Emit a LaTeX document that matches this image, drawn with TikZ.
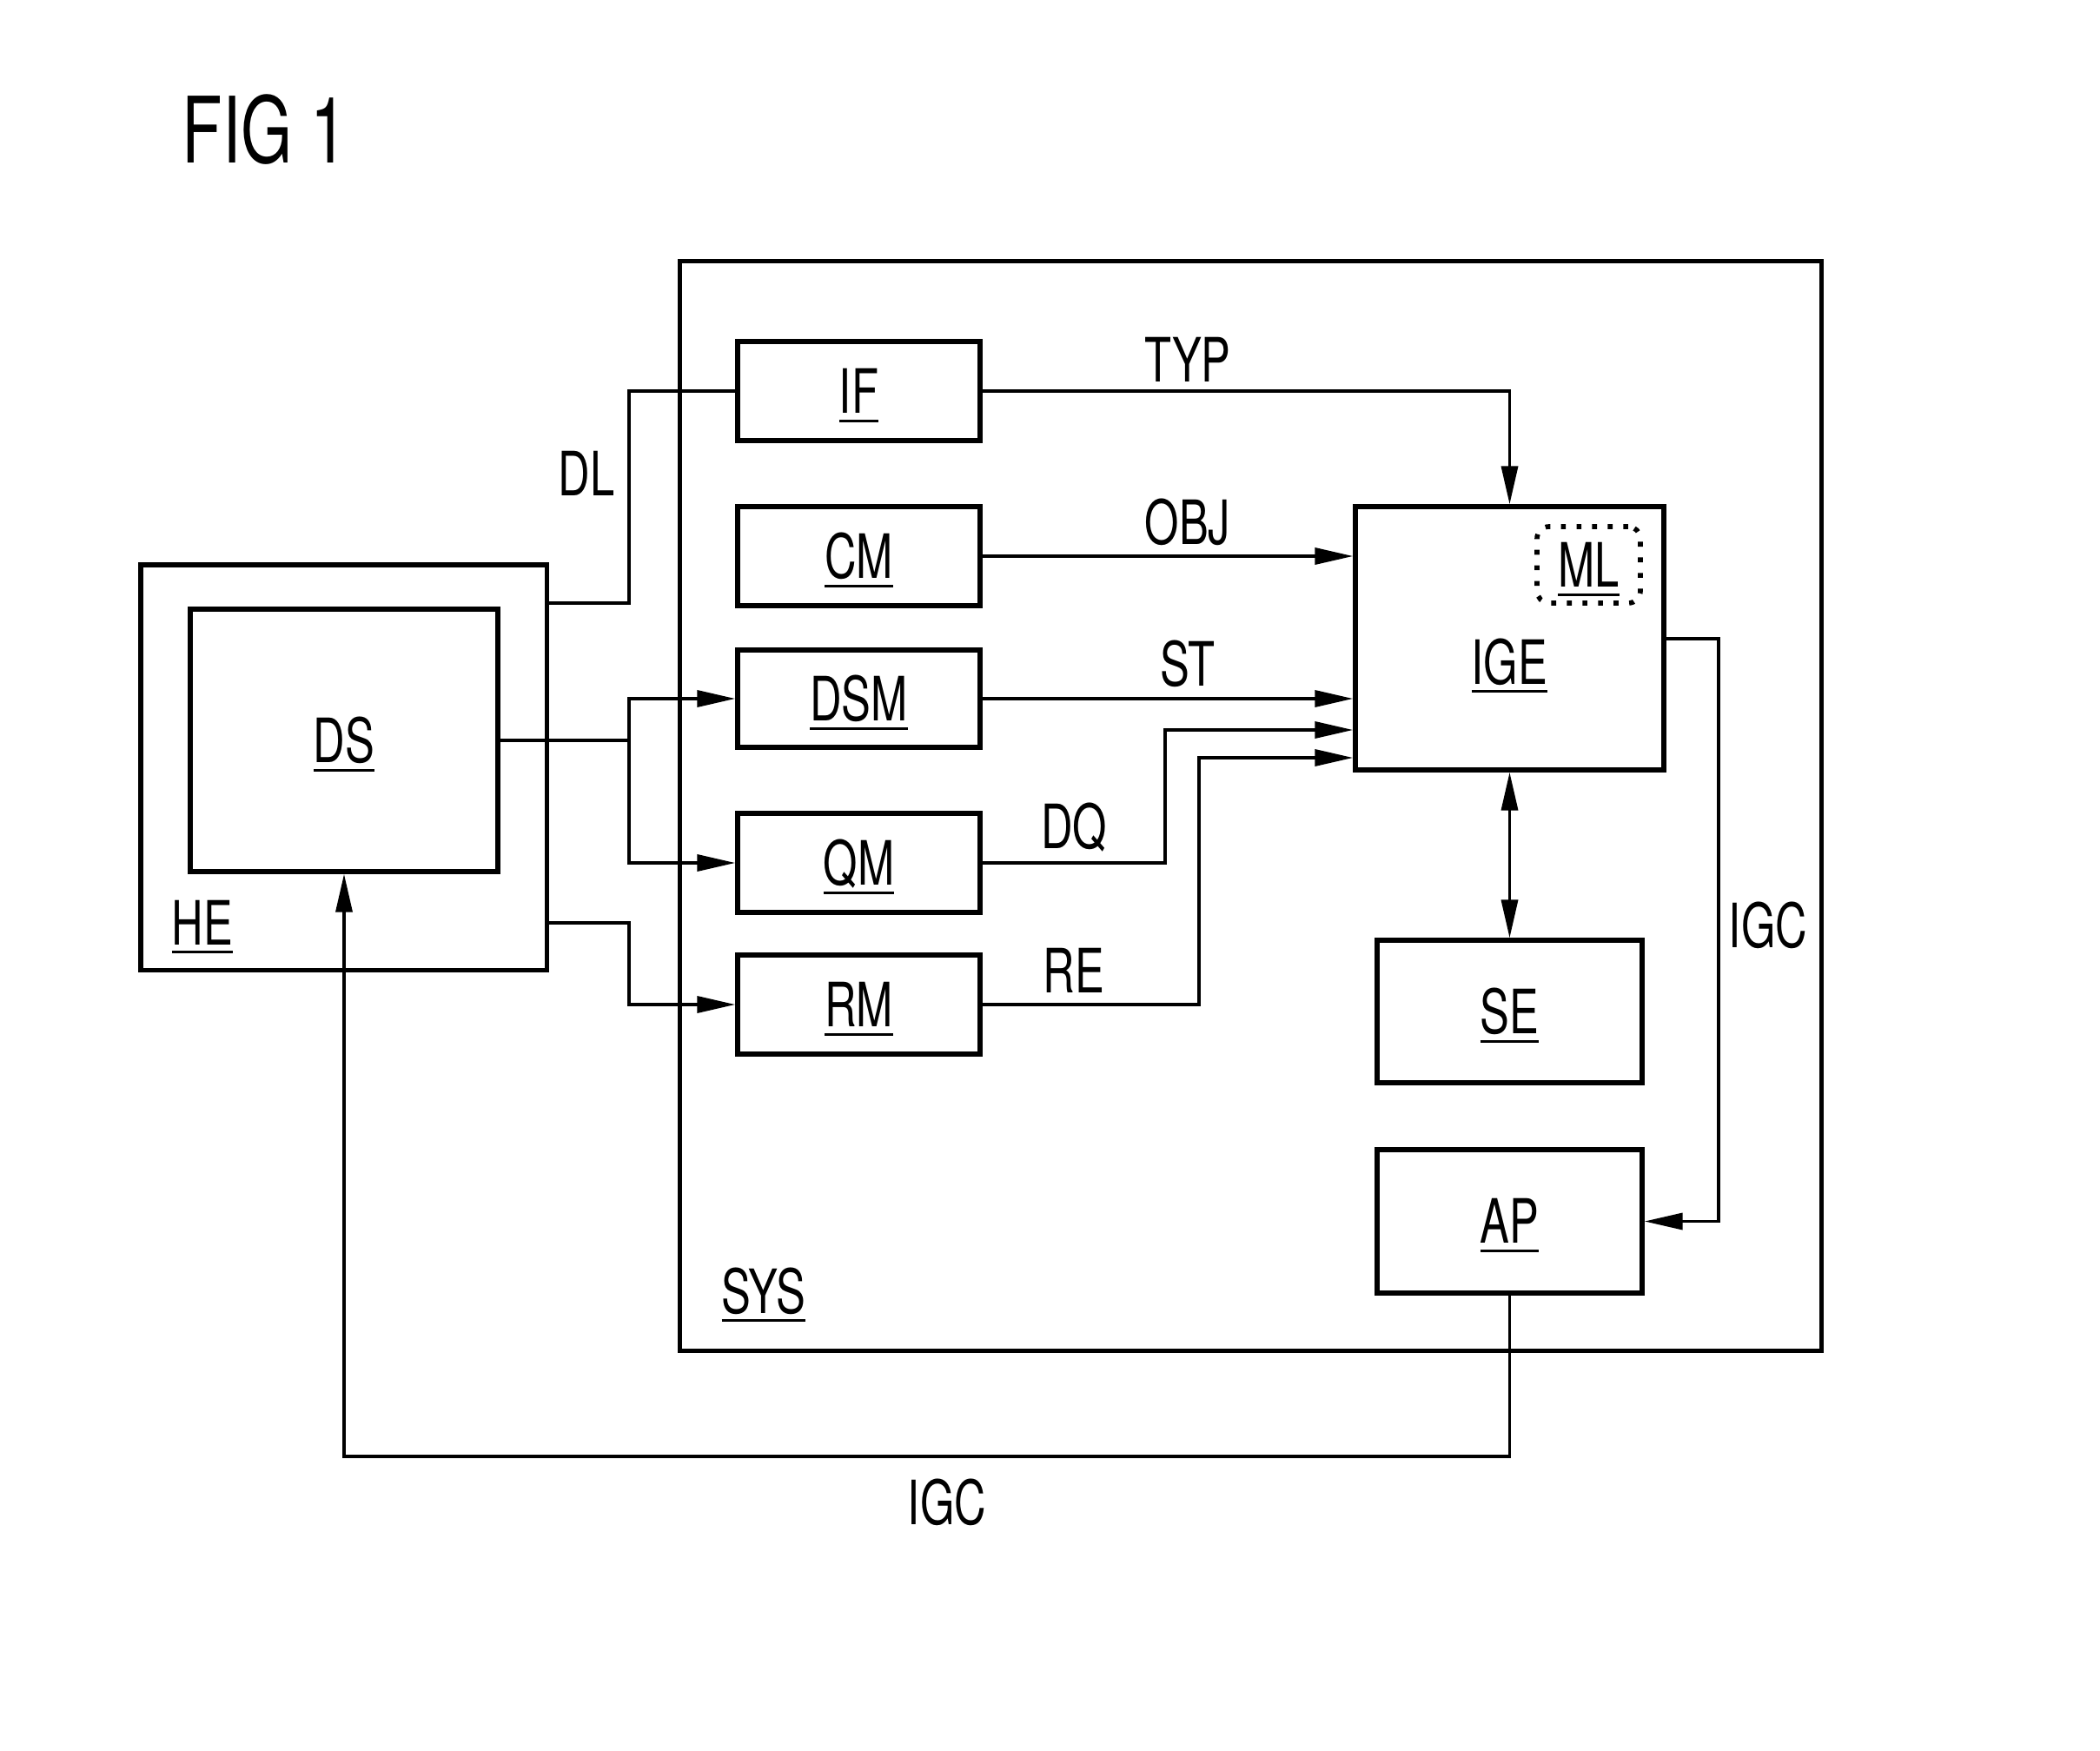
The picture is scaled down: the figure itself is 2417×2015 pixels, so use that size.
\documentclass[tikz,border=0pt]{standalone}
\usepackage{fontspec}
\setmainfont{TeX Gyre Heros}[FakeStretch=0.72]
\usetikzlibrary{arrows.meta}
\newcommand\ulab[1]{\setbox0\hbox{#1}\rlap{\rule[-2.9pt]{\wd0}{0.8pt}}\box0}
\begin{document}
\begin{tikzpicture}[x=0.01cm,y=-0.01cm,
  lbl/.style={font=\fontsize{20}{24}\selectfont,inner sep=0pt},
  box/.style={draw,line width=1.5pt,inner sep=0pt,font=\fontsize{20}{24}\selectfont,text height=14.4pt,text depth=0pt},
  mbox/.style={box,minimum width=2.79cm,minimum height=1.14cm},
  conn/.style={line width=1.0pt},
  arr/.style={conn,-{Triangle[length=12.5pt,width=5.4pt]}},
  arrb/.style={conn,{Triangle[length=12.5pt,width=5.4pt]}-{Triangle[length=12.5pt,width=5.4pt]}}]
\useasboundingbox (0,0) rectangle (2417,2015);
\node[anchor=base west,inner sep=0pt,font=\fontsize{30}{36}\selectfont] (fig) at (209,187) {FIG 1};
% system box
\node[draw,line width=1.5pt,minimum width=13.13cm,minimum height=12.53cm,inner sep=0pt] (SYS) at (1439.5,927.5) {};
\node[lbl,anchor=base] (SYSl) at (879,1511) {\ulab{SYS}};
% modules
\node[mbox] (IF) at (988.5,450) {\ulab{IF}};
\node[mbox] (CM) at (988.5,640) {\ulab{CM}};
\node[mbox,minimum height=1.12cm] (DSM) at (988.5,804) {\ulab{DSM}};
\node[mbox] (QM) at (988.5,993) {\ulab{QM}};
\node[mbox] (RM) at (988.5,1156) {\ulab{RM}};
\node[box,minimum width=3.55cm,minimum height=3.03cm] (IGE) at (1737.5,734.5) {};
\node[lbl,anchor=base] (IGEl) at (1737.5,787) {\ulab{IGE}};
\node[box,minimum width=1.19cm,minimum height=0.88cm,rounded corners=4pt,line width=1.6pt,dash pattern=on 1.6pt off 3.5pt] (ML) at (1828.5,650) {\ulab{ML}};
\node[box,minimum width=3.05cm,minimum height=1.64cm] (SE) at (1737.5,1164) {\ulab{SE}};
\node[box,minimum width=3.05cm,minimum height=1.65cm] (AP) at (1737.5,1405.5) {\ulab{AP}};
% HE / DS
\node[box,minimum width=4.67cm,minimum height=4.66cm] (HE) at (395.5,883) {};
\node[lbl,anchor=base] (HEl) at (233,1087) {\ulab{HE}};
\node[box,minimum width=3.54cm,minimum height=3.02cm] (DS) at (396,852) {\ulab{DS}};
% connectors
\coordinate (k1) at (724,694);
\draw[conn] (HE.east |- k1) -- (k1) |- (IF.west);
\coordinate (sp) at (724,852);
\draw[conn] (DS.east) -- (sp);
\draw[arr] (sp) |- (DSM.west);
\draw[arr] (sp) |- (QM.west);
\coordinate (k3) at (724,1062);
\draw[arr] (HE.east |- k3) -- (k3) |- (RM.west);
\draw[arr] (IF.east) -| (IGE.north);
\draw[arr] (CM.east) -- (IGE.west |- CM.east);
\draw[arr] (DSM.east) -- (IGE.west |- DSM.east);
\coordinate (k4) at (1341,840);
\draw[arr] (QM.east) -| (k4) -- (IGE.west |- k4);
\coordinate (k5) at (1380,872);
\draw[arr] (RM.east) -| (k5) -- (IGE.west |- k5);
\draw[arrb] (IGE.south) -- (SE.north);
\coordinate (k6) at (1978,735);
\draw[arr] (IGE.east |- k6) -- (k6) |- (AP.east);
\coordinate (k7) at (1737.5,1676);
\draw[arr] (AP.south) -- (k7) -| (DS.south);
% connector labels
\node[lbl,anchor=base] (DL) at (675,570) {DL};
\node[lbl,anchor=base] (TYP) at (1367,439) {TYP};
\node[lbl,anchor=base] (OBJ) at (1367,626) {OBJ};
\node[lbl,anchor=base] (ST) at (1367,789) {ST};
\node[lbl,anchor=base] (DQ) at (1236,976) {DQ};
\node[lbl,anchor=base] (RE) at (1236,1142) {RE};
\node[lbl,anchor=base] (IGC1) at (2035,1090) {IGC};
\node[lbl,anchor=base] (IGC2) at (1090,1754) {IGC};
\end{tikzpicture}
\end{document}
